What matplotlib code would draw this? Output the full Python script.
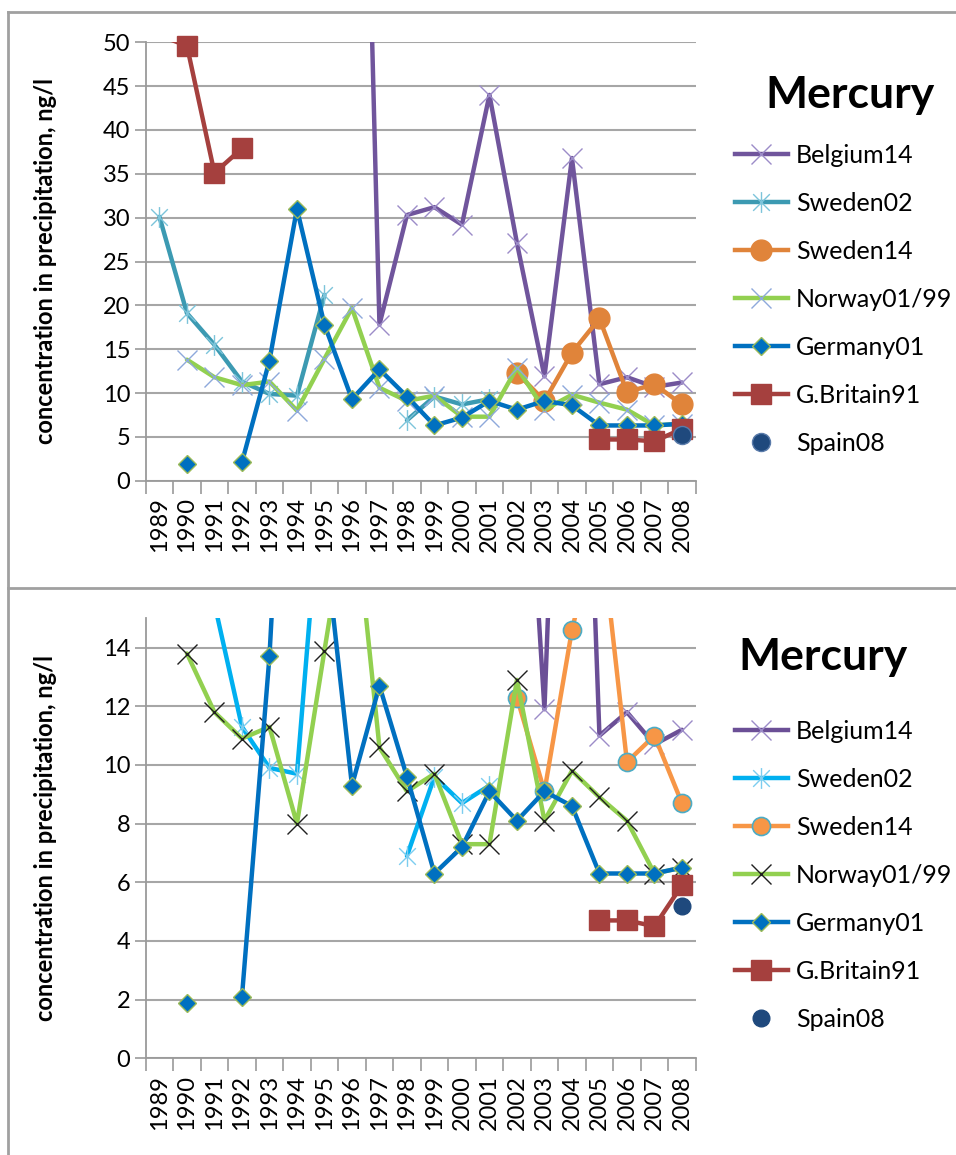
import numpy as np
import matplotlib.pyplot as plt
from matplotlib.path import Path
from matplotlib.lines import Line2D

nan = np.nan

years = list(range(1989, 2009))
year_labels = [str(y) for y in years]

series_names = ['Belgium14', 'Sweden02', 'Sweden14', 'Norway01/99',
                'Germany01', 'G.Britain91', 'Spain08']

belgium14 = [nan, nan, nan, nan, nan, nan, nan, 140.0, 17.8, 30.3, 31.2, 29.2,
             44.0, 27.1, 11.9, 36.8, 11.0, 11.8, 10.7, 11.2]
sweden02 = [30.1, 19.1, 15.5, 11.3, 9.9, 9.7, 21.2, nan, nan, 6.9, 9.6, 8.7,
            9.3, nan, nan, nan, nan, nan, nan, nan]
sweden14 = [nan, nan, nan, nan, nan, nan, nan, nan, nan, nan, nan, nan,
            nan, 12.3, 9.1, 14.6, 18.5, 10.1, 11.0, 8.7]
norway = [nan, 13.8, 11.8, 10.9, 11.3, 8.0, 13.9, 19.7, 10.6, 9.1, 9.7, 7.3,
          7.3, 12.9, 8.1, 9.8, 8.9, 8.1, 6.3, 6.5]
germany01 = [nan, 1.9, nan, 2.1, 13.7, 31.0, 17.8, 9.3, 12.7, 9.6, 6.3, 7.2,
             9.1, 8.1, 9.1, 8.6, 6.3, 6.3, 6.3, 6.5]
gbritain91 = [50.8, 49.6, 35.1, 37.9, nan, nan, nan, nan, nan, nan, nan, nan,
              nan, nan, nan, nan, 4.7, 4.7, 4.5, 5.9]
spain08 = [nan, nan, nan, nan, nan, nan, nan, nan, nan, nan, nan, nan,
           nan, nan, nan, nan, nan, nan, nan, 5.2]

all_series = [belgium14, sweden02, sweden14, norway, germany01, gbritain91, spain08]

# Excel style asterisk marker (x with a vertical bar)
asterisk = Path([(-1, -1), (1, 1), (-1, 1), (1, -1), (0, -1.25), (0, 1.25)],
                [Path.MOVETO, Path.LINETO, Path.MOVETO, Path.LINETO, Path.MOVETO, Path.LINETO])

# styles per panel: (line colour, marker, marker size, face, edge, edge width)
top_styles = [
    ('#70559C', 'x', 14, 'none', '#9C8CC8', 1.0),
    ('#3C9AB2', asterisk, 15, 'none', '#7CC4DA', 1.0),
    ('#E0843A', 'o', 15, '#E0843A', '#E0843A', 1.0),
    ('#92D050', 'x', 14, 'none', '#8EA9DB', 1.0),
    ('#0070C0', 'D', 9.5, '#0070C0', '#9BBB59', 1.0),
    ('#A5403E', 's', 14, '#A5403E', '#A5403E', 1.0),
    (None, 'o', 13, '#1F497D', '#5A7BAA', 1.0),
]
bottom_styles = [
    ('#6B4F96', 'x', 14, 'none', '#9C8CC8', 1.0),
    ('#00B0F0', asterisk, 15, 'none', '#7CCDEF', 1.0),
    ('#F79646', 'o', 13, '#F79646', '#4BACC6', 1.2),
    ('#92D050', 'x', 14, 'none', '#202020', 1.0),
    ('#0070C0', 'D', 9.5, '#0070C0', '#9BBB59', 1.0),
    ('#A5403E', 's', 14, '#A5403E', '#A5403E', 1.0),
    (None, 'o', 12, '#1F497D', '#1F497D', 1.0),
]

plt.rcParams['font.family'] = ['Lato', 'DejaVu Sans']

W, H = 956, 1155
fig = plt.figure(figsize=(W / 100, H / 100), dpi=100)


def px(x0, y_top, x1, y_bot):
    return [x0 / W, 1 - y_bot / H, (x1 - x0) / W, (y_bot - y_top) / H]


def panel(rect, ymax, ystep, styles, title_xy, legend_xy):
    ax = fig.add_axes(rect)
    x = np.arange(len(years))
    for i, (vals, st) in enumerate(zip(all_series, styles)):
        color, mk, ms, fc, ec, mew = st
        v = np.array(vals, dtype=float)
        if color is not None:
            ax.plot(x, v, color=color, lw=3.2, solid_capstyle='round',
                    solid_joinstyle='round', zorder=3 + i)
        vis = np.where(v <= ymax, v, nan)
        ax.plot(x, vis, ls='none', marker=mk, ms=ms, mfc=fc, mec=ec, mew=mew,
                zorder=3.5 + i, clip_on=False)
    ax.set_xlim(-0.5, len(years) - 0.5)
    ax.set_ylim(0, ymax)
    ax.set_yticks(np.arange(0, ymax + 0.01, ystep))
    ax.set_xticks(np.arange(-0.5, len(years), 1.0))
    ax.set_xticklabels([])
    ax.set_xticks(x, minor=True)
    ax.set_xticklabels(year_labels, minor=True, rotation=90, fontsize=17)
    ax.tick_params(axis='x', which='major', length=9, width=1.2, color='#9A9A9A', direction='out')
    ax.tick_params(axis='x', which='minor', length=0, pad=12)
    ax.tick_params(axis='y', length=8, width=1.2, color='#9A9A9A', labelsize=17, pad=3)
    ax.grid(axis='y', color='#A6A6A6', lw=1.5)
    ax.set_axisbelow(True)
    for s in ['top', 'right']:
        ax.spines[s].set_visible(False)
    for s in ['left', 'bottom']:
        ax.spines[s].set_color('#9A9A9A')
        ax.spines[s].set_linewidth(1.3)
    ax.set_ylabel('concentration in precipitation, ng/l', fontsize=17,
                  fontweight='bold')
    ax.yaxis.set_label_coords(-0.162, 0.5)

    fig.text(title_xy[0] / W, 1 - title_xy[1] / H, 'Mercury', fontsize=32,
             fontweight='bold', ha='center', va='center')

    handles = []
    for st in styles:
        color, mk, ms, fc, ec, mew = st
        handles.append(Line2D([], [], color=color if color else 'none', lw=3.2,
                              ls='-' if color else 'none', marker=mk, ms=ms,
                              mfc=fc, mec=ec, mew=mew))
    fig.legend(handles, series_names, loc='upper left',
               bbox_to_anchor=(legend_xy[0] / W, 1 - legend_xy[1] / H),
               frameon=False, fontsize=18, handlelength=2.1, handletextpad=0.35,
               labelspacing=1.0, borderpad=0, borderaxespad=0, numpoints=1)
    return ax


panel(px(145.7, 42.3, 695.7, 480.7), 50, 5, top_styles, (850, 95), (735, 144))
panel(px(145.7, 618.3, 695.7, 1058.3), 15, 2, bottom_styles, (823, 657), (735, 720))

# panel frames
frame = dict(color='#A0A0A0', lw=2.0, transform=fig.transFigure)
fig.add_artist(Line2D([8 / W, 8 / W], [0, 1 - 12 / H], **frame))
fig.add_artist(Line2D([8 / W, 1], [1 - 12 / H, 1 - 12 / H], **frame))
fig.add_artist(Line2D([8 / W, 1], [1 - 588 / H, 1 - 588 / H], **frame))

fig.savefig('out.png', dpi=100, facecolor='white')
